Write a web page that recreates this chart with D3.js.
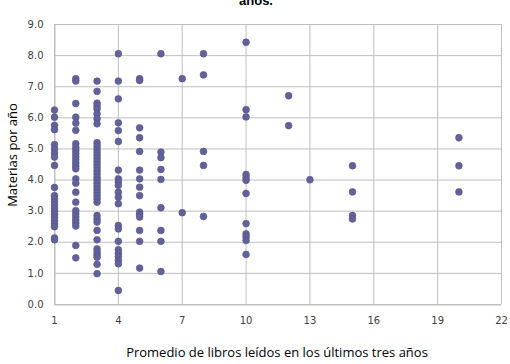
<!DOCTYPE html>
<html>
<head>
<meta charset="utf-8">
<script src="https://cdn.jsdelivr.net/npm/d3@7"></script>
<style>
  body { margin: 0; background: #fff; }
  svg { display: block; }
  .tick text { font-family: "DejaVu Sans", sans-serif; font-size: 10px; fill: #404040; }
</style>
</head>
<body>
<div id="chart"></div>
<script>
// libros leidos (x) -> materias por año (y), one array per x value
const books = [1, 2, 3, 4, 5, 6, 7, 8, 10, 12, 13, 15, 20];
const subjectsAt1 = [6.25, 6.02, 5.76, 5.62, 5.14, 5.0, 4.87, 4.74, 4.47, 3.76, 3.5, 3.4, 3.3, 3.2, 3.1, 3.0, 2.9, 2.8, 2.7, 2.6, 2.5, 2.14, 2.08];
const subjectsAt2 = [7.26, 7.18, 6.46, 6.02, 5.83, 5.6, 5.17, 5.05, 4.95, 4.85, 4.75, 4.65, 4.55, 4.45, 4.36, 4.04, 3.9, 3.61, 3.29, 3.02, 2.92, 2.82, 2.72, 2.62, 2.52, 1.9, 1.5];
const subjectsAt3 = [7.18, 6.85, 6.47, 6.38, 6.29, 6.13, 5.97, 5.81, 5.2, 5.1, 5.0, 4.9, 4.8, 4.7, 4.6, 4.5, 4.4, 4.3, 4.2, 4.09, 4.0, 3.9, 3.8, 3.7, 3.6, 3.5, 3.4, 3.29, 2.86, 2.75, 2.65, 2.38, 2.08, 1.79, 1.69, 1.6, 1.52, 1.29, 0.99];
const subjectsAt4 = [8.06, 7.18, 6.61, 5.84, 5.59, 5.24, 4.32, 4.04, 3.94, 3.83, 3.61, 3.45, 3.24, 2.54, 2.43, 2.03, 1.76, 1.65, 1.54, 1.42, 1.31, 0.45];
const subjectsAt5 = [7.26, 7.2, 5.68, 5.36, 4.92, 4.32, 4.04, 3.77, 3.5, 2.97, 2.89, 2.81, 2.38, 2.03, 1.17];
const subjectsAt6 = [8.06, 4.9, 4.72, 4.34, 4.02, 3.11, 2.38, 2.03, 1.06];
const subjectsAt7 = [7.26, 2.95];
const subjectsAt8 = [8.06, 7.38, 4.92, 4.47, 2.83];
const subjectsAt10 = [8.43, 6.26, 6.03, 4.18, 4.08, 3.99, 3.57, 2.6, 2.27, 2.17, 2.06, 1.61];
const subjectsAt12 = [6.71, 5.75];
const subjectsAt13 = [4.01];
const subjectsAt15 = [4.46, 3.62, 2.86, 2.75];
const subjectsAt20 = [5.36, 4.46, 3.62];

const xTicks = [1, 4, 7, 10, 13, 16, 19, 22];
const yTicks = [0, 1, 2, 3, 4, 5, 6, 7, 8, 9];

const columns = [subjectsAt1, subjectsAt2, subjectsAt3, subjectsAt4, subjectsAt5, subjectsAt6,
  subjectsAt7, subjectsAt8, subjectsAt10, subjectsAt12, subjectsAt13, subjectsAt15, subjectsAt20];
const points = [];
books.forEach((b, i) => columns[i].forEach(v => points.push({ x: b, y: v })));

const W = 510, H = 364;
const margin = { top: 24, right: 9, bottom: 60, left: 54 };

const svg = d3.select("#chart").append("svg")
  .attr("width", W)
  .attr("height", H);

const x = d3.scaleLinear().domain([1, 22]).range([margin.left, W - margin.right]);
const y = d3.scaleLinear().domain([0, 9]).range([H - margin.bottom, margin.top]);

// grid
svg.append("g")
  .selectAll("line.h")
  .data(yTicks)
  .join("line")
  .attr("x1", margin.left).attr("x2", W - margin.right)
  .attr("y1", d => y(d) + 0.5).attr("y2", d => y(d) + 0.5)
  .attr("stroke", "#bfbfbf");

svg.append("g")
  .selectAll("line.v")
  .data(xTicks)
  .join("line")
  .attr("x1", d => x(d) + 0.5).attr("x2", d => x(d) + 0.5)
  .attr("y1", margin.top).attr("y2", H - margin.bottom)
  .attr("stroke", "#bfbfbf");

// axes
const xAxis = svg.append("g")
  .attr("transform", `translate(0,${H - margin.bottom + 0.5})`)
  .call(d3.axisBottom(x).tickValues(xTicks).tickSize(0).tickPadding(12).tickFormat(d3.format("d")));
xAxis.select(".domain").attr("stroke", "#bfbfbf");

const yAxis = svg.append("g")
  .attr("transform", `translate(${margin.left + 0.5},0)`)
  .call(d3.axisLeft(y).tickValues(yTicks).tickSize(0).tickPadding(11).tickFormat(d3.format(".1f")));
yAxis.select(".domain").attr("stroke", "#bfbfbf");

// points
svg.append("g")
  .selectAll("circle")
  .data(points)
  .join("circle")
  .attr("cx", d => x(d.x) + 0.5)
  .attr("cy", d => y(d.y) + 0.5)
  .attr("r", 3.4)
  .attr("fill", "#62629b")
  .attr("stroke", "#55558c")
  .attr("stroke-width", 0.6);

// titles (chart title is cut off at the top, as in the original)
svg.append("text")
  .attr("x", 256).attr("y", 5)
  .attr("text-anchor", "middle")
  .style("font-family", "Liberation Sans, sans-serif")
  .style("font-weight", "bold")
  .style("font-size", "13px")
  .text("años.");

svg.append("text")
  .attr("x", 277)
  .attr("y", 357)
  .attr("text-anchor", "middle")
  .style("font-family", "Open Sans, sans-serif")
  .style("font-size", "13px")
  .style("font-weight", 500)
  .style("fill", "#000")
  .text("Promedio de libros leídos en los últimos tres años");

svg.append("text")
  .attr("transform", "translate(17,155) rotate(-90)")
  .attr("text-anchor", "middle")
  .style("font-family", "Open Sans, sans-serif")
  .style("font-size", "13px")
  .style("font-weight", 500)
  .style("fill", "#000")
  .text("Materias por año");
</script>
</body>
</html>
